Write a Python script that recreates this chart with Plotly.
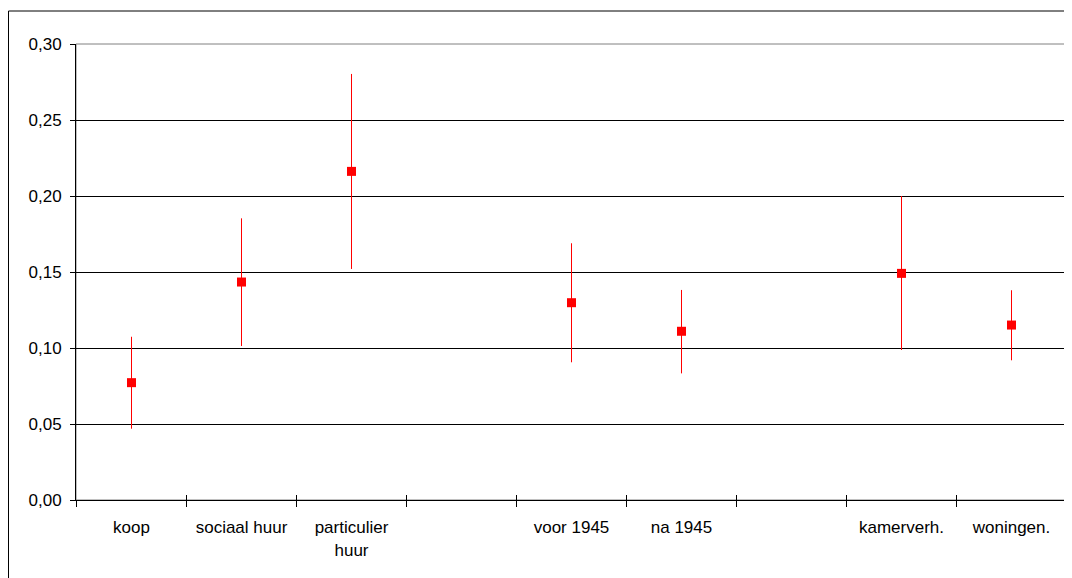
import plotly.graph_objects as go

categories = ["koop", "sociaal huur", "particulier<br>huur", "", "voor 1945", "na 1945", "", "kamerverh.", "woningen."]
means = [0.0772, 0.1434, 0.2162, None, 0.1298, 0.1110, None, 0.1491, 0.1151]
upper = [0.1074, 0.1853, 0.2803, None, 0.1689, 0.1382, None, 0.2000, 0.1380]
lower = [0.0469, 0.1013, 0.1520, None, 0.0906, 0.0833, None, 0.0987, 0.0919]
y_ticks = [0.00, 0.05, 0.10, 0.15, 0.20, 0.25, 0.30]

xs = list(range(len(categories)))
plus = [None if m is None else u - m for m, u in zip(means, upper)]
minus = [None if m is None else m - l for m, l in zip(means, lower)]

fig = go.Figure()
fig.add_trace(go.Scatter(
    x=xs, y=means, mode="markers",
    marker=dict(symbol="square", size=9, color="#FF0000", line=dict(width=0)),
    error_y=dict(type="data", symmetric=False, array=plus, arrayminus=minus,
                 color="#FF0000", thickness=1, width=0),
    showlegend=False, hoverinfo="skip",
))
# invisible trace to bind the overlay axis
fig.add_trace(go.Scatter(x=[None], y=[None], xaxis="x2", yaxis="y", showlegend=False))

font = dict(family="Liberation Sans, Arial, sans-serif", size=17, color="#000000")

W, H = 1064, 570
ml, mr, mt, mb = 68, 6, 36, 78
pw, ph = W - ml - mr, H - mt - mb
n = len(categories)
half_px = 0.5 * n / pw  # half a pixel in data units, keeps 1px bars crisp
xr = [-0.5 - half_px, n - 0.5 - half_px]

fig.update_layout(
    width=W, height=H,
    margin=dict(l=ml, r=mr, t=mt, b=mb),
    paper_bgcolor="#FFFFFF", plot_bgcolor="#FFFFFF",
    separators=",.",
    font=font,
    xaxis=dict(
        range=xr,
        tickmode="array", tickvals=xs, ticktext=categories,
        ticks="", showgrid=False, zeroline=False,
        showline=True, linecolor="#000000", linewidth=1,
        ticklabelstandoff=12,
        minor=dict(tick0=-0.5, dtick=1, ticks="outside", ticklen=6,
                   tickcolor="#000000", tickwidth=1, showgrid=False),
        tickfont=font,
    ),
    xaxis2=dict(
        overlaying="x", range=xr,
        tickmode="linear", tick0=-0.5, dtick=1, ticks="inside", ticklen=5,
        tickcolor="#000000", showticklabels=False, showgrid=False,
        zeroline=False, showline=False, side="bottom", anchor="y",
    ),
    yaxis=dict(
        range=[0, 0.30], tickmode="array", tickvals=y_ticks,
        tickformat=".2f", ticks="outside", ticklen=5, tickcolor="#000000",
        showgrid=True, gridcolor="#000000", gridwidth=1,
        zeroline=False, showline=True, linecolor="#000000", linewidth=1,
        ticklabelstandoff=5, tickfont=font,
    ),
    shapes=[
        dict(type="rect", xref="paper", yref="paper", x0=0, x1=1, y0=0, y1=1,
             line=dict(color="#808080", width=1), layer="below"),
        dict(type="rect", xref="paper", yref="paper",
             x0=(0.5 - ml) / pw, x1=(W + 20 - ml) / pw,
             y0=-(mb + 20) / ph, y1=(ph + mt - 3) / ph,
             line=dict(color="#000000", width=1), layer="below"),
    ],
)

fig.write_html("out.html")
